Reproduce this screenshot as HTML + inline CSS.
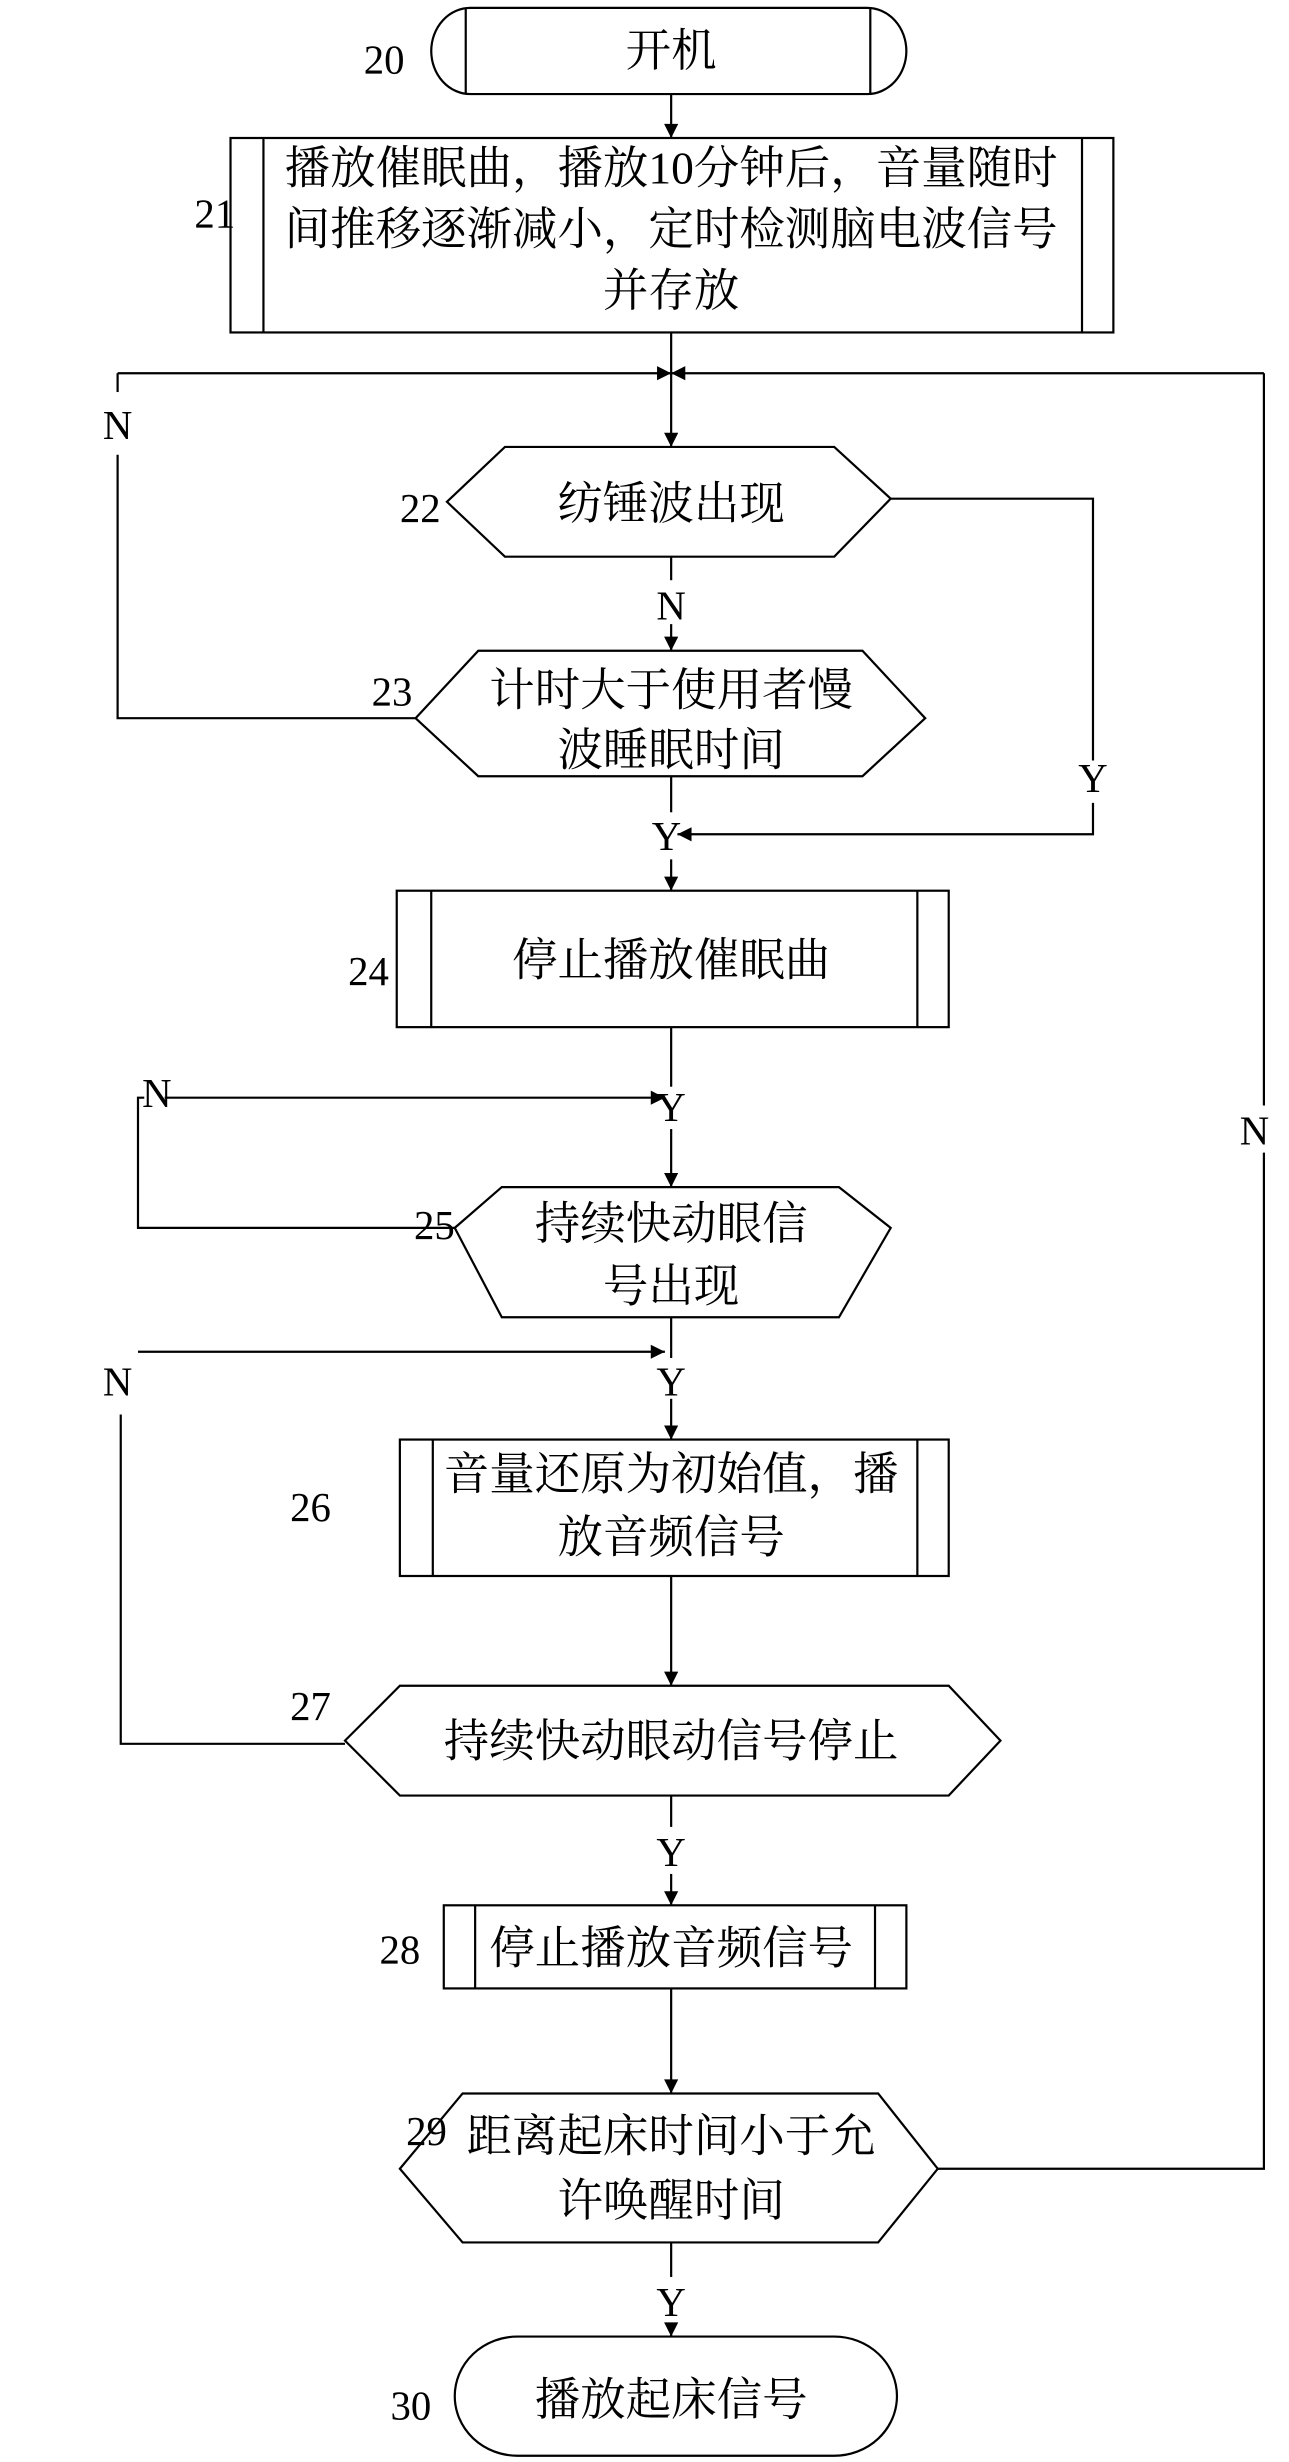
<!DOCTYPE html>
<html><head><meta charset="utf-8"><style>
html,body{margin:0;padding:0;background:#fff;}
svg{display:block;}
text{font-family:"Liberation Serif","Noto Serif CJK SC","Noto Sans CJK SC",serif;fill:#000;}
.t{font-size:29px;text-anchor:middle;}
.n{font-size:26px;text-anchor:middle;}
</style></head><body>
<svg width="1289" height="2462" viewBox="0 0 822 1570" preserveAspectRatio="none" xmlns="http://www.w3.org/2000/svg">
<defs>
<marker id="a" viewBox="0 0 10 10" refX="10" refY="5" markerWidth="10" markerHeight="9" markerUnits="userSpaceOnUse" orient="auto">
<path d="M0,0 L10,5 L0,10 z" fill="#000"/></marker>
</defs>
<g fill="none" stroke="#000" stroke-width="1.4">
<!-- 20 -->
<path d="M300,5 H553 A25,27.5 0 0 1 553,60 H300 A25,27.5 0 0 1 300,5 z"/>
<line x1="297" y1="5" x2="297" y2="60"/><line x1="555" y1="5" x2="555" y2="60"/>
<line x1="428" y1="60" x2="428" y2="88" marker-end="url(#a)"/>
<!-- 21 -->
<rect x="147" y="88" width="563" height="124"/>
<line x1="168" y1="88" x2="168" y2="212"/><line x1="690" y1="88" x2="690" y2="212"/>
<line x1="428" y1="212" x2="428" y2="285" marker-end="url(#a)"/>
<line x1="75" y1="238" x2="428" y2="238" marker-end="url(#a)"/>
<line x1="806" y1="238" x2="428" y2="238" marker-end="url(#a)"/>
<polyline points="75,238 75,250"/>
<polyline points="75,290 75,458 265,458"/>
<!-- 22 -->
<polygon points="285,320 322,285 532,285 568,318 532,355 322,355"/>
<polyline points="568,318 697,318 697,485"/>
<polyline points="697,512 697,532 432,532" marker-end="url(#a)"/>
<line x1="428" y1="355" x2="428" y2="370"/>
<line x1="428" y1="398" x2="428" y2="415" marker-end="url(#a)"/>
<!-- 23 -->
<polygon points="265,458 305,415 550,415 590,458 550,495 305,495"/>
<line x1="428" y1="495" x2="428" y2="518"/>
<line x1="428" y1="548" x2="428" y2="568" marker-end="url(#a)"/>
<!-- 24 -->
<rect x="253" y="568" width="352" height="87"/>
<line x1="275" y1="568" x2="275" y2="655"/><line x1="585" y1="568" x2="585" y2="655"/>
<line x1="428" y1="655" x2="428" y2="693"/>
<line x1="105" y1="700" x2="424" y2="700" marker-end="url(#a)"/>
<polyline points="92,700 88,700 88,783 290,783"/>
<line x1="428" y1="720" x2="428" y2="757" marker-end="url(#a)"/>
<!-- 25 -->
<polygon points="290,783 320,757 535,757 568,783 535,840 320,840"/>
<line x1="428" y1="840" x2="428" y2="866"/>
<line x1="88" y1="862" x2="424" y2="862" marker-end="url(#a)"/>
<polyline points="77,902 77,1112 220,1112"/>
<line x1="428" y1="892" x2="428" y2="918" marker-end="url(#a)"/>
<!-- 26 -->
<rect x="255" y="918" width="350" height="87"/>
<line x1="276" y1="918" x2="276" y2="1005"/><line x1="585" y1="918" x2="585" y2="1005"/>
<line x1="428" y1="1005" x2="428" y2="1075" marker-end="url(#a)"/>
<!-- 27 -->
<polygon points="220,1110 255,1075 605,1075 638,1110 605,1145 255,1145"/>
<line x1="428" y1="1145" x2="428" y2="1165"/>
<line x1="428" y1="1195" x2="428" y2="1215" marker-end="url(#a)"/>
<!-- 28 -->
<rect x="283" y="1215" width="295" height="53"/>
<line x1="303" y1="1215" x2="303" y2="1268"/><line x1="558" y1="1215" x2="558" y2="1268"/>
<line x1="428" y1="1268" x2="428" y2="1335" marker-end="url(#a)"/>
<!-- 29 -->
<polygon points="255,1383 295,1335 560,1335 598,1383 560,1430 295,1430"/>
<polyline points="598,1383 806,1383 806,735"/>
<polyline points="806,705 806,238"/>
<line x1="428" y1="1430" x2="428" y2="1452"/>
<line x1="428" y1="1482" x2="428" y2="1490" marker-end="url(#a)"/>
<!-- 30 -->
<path d="M330,1490 H532 A40,38 0 0 1 532,1566 H330 A40,38 0 0 1 330,1490 z"/>
</g>
<text class="t" x="428" y="42">开机</text>
<text class="t" x="428" y="117">播放催眠曲，播放10分钟后，音量随时</text>
<text class="t" x="428" y="156">间推移逐渐减小，定时检测脑电波信号</text>
<text class="t" x="428" y="195">并存放</text>
<text class="t" x="428" y="331">纺锤波出现</text>
<text class="t" x="428" y="450">计时大于使用者慢</text>
<text class="t" x="428" y="488">波睡眠时间</text>
<text class="t" x="428" y="622">停止播放催眠曲</text>
<text class="t" x="428" y="790">持续快动眼信</text>
<text class="t" x="428" y="830">号出现</text>
<text class="t" x="428" y="950">音量还原为初始值，播</text>
<text class="t" x="428" y="990">放音频信号</text>
<text class="t" x="428" y="1120">持续快动眼动信号停止</text>
<text class="t" x="428" y="1252">停止播放音频信号</text>
<text class="t" x="428" y="1372">距离起床时间小于允</text>
<text class="t" x="428" y="1413">许唤醒时间</text>
<text class="t" x="428" y="1540">播放起床信号</text>
<text class="n" x="245" y="47">20</text>
<text class="n" x="137" y="145">21</text>
<text class="n" x="268" y="333">22</text>
<text class="n" x="250" y="450">23</text>
<text class="n" x="235" y="628">24</text>
<text class="n" x="277" y="790">25</text>
<text class="n" x="198" y="970">26</text>
<text class="n" x="198" y="1097">27</text>
<text class="n" x="255" y="1252">28</text>
<text class="n" x="272" y="1368">29</text>
<text class="n" x="262" y="1543">30</text>
<text class="n" x="75" y="280">N</text>
<text class="n" x="428" y="395">N</text>
<text class="n" x="697" y="505">Y</text>
<text class="n" x="425" y="542">Y</text>
<text class="n" x="100" y="706">N</text>
<text class="n" x="428" y="715">Y</text>
<text class="n" x="800" y="730">N</text>
<text class="n" x="75" y="890">N</text>
<text class="n" x="428" y="890">Y</text>
<text class="n" x="428" y="1190">Y</text>
<text class="n" x="428" y="1477">Y</text>
</svg>
</body></html>
